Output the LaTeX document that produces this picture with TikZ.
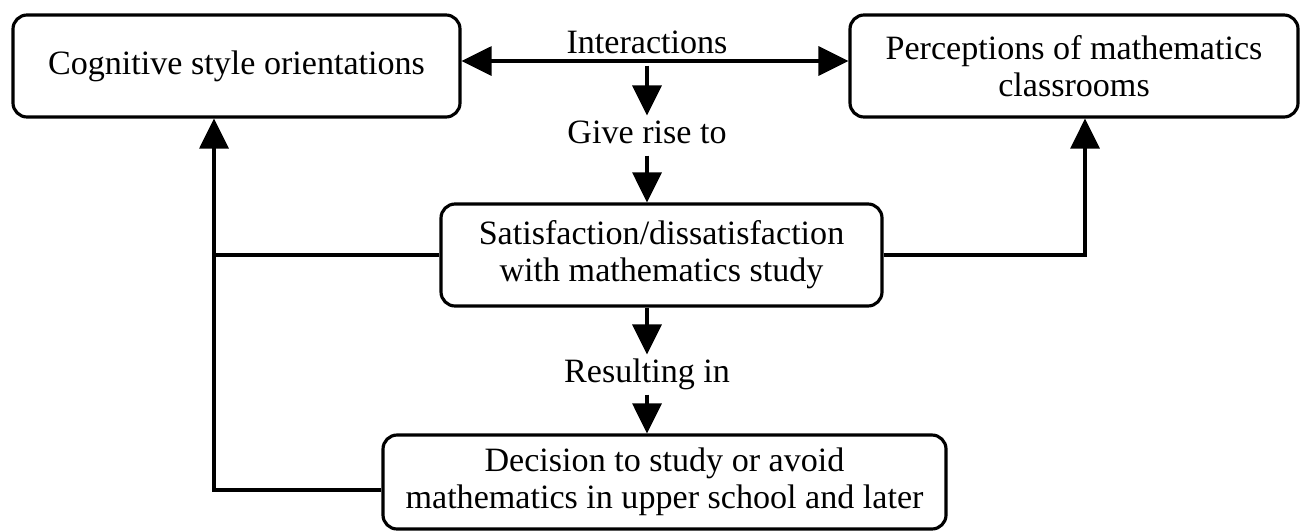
\documentclass[tikz,border=0pt]{standalone}
\usepackage{fontspec}
\setmainfont{Liberation Serif}
\usetikzlibrary{arrows.meta}

\tikzset{
  box/.style={draw, rounded corners=4pt, line width=0.9pt, align=center, inner sep=0pt},
  lbl/.style={inner xsep=2pt, inner ysep=1pt, text height=0.68em, text depth=0.22em},
  arr/.style={line width=0.9pt, -{Triangle[length=0.3cm, width=0.29cm]}},
  both/.style={line width=0.9pt, {Triangle[length=0.3cm, width=0.29cm]}-{Triangle[length=0.3cm, width=0.29cm]}},
  ln/.style={line width=0.9pt}
}

\begin{document}
\begin{tikzpicture}[font=\fontsize{9.7}{10.6}\selectfont]
            \useasboundingbox (0,0) rectangle (13,-5.31);
            \node [box, minimum width=4.47cm, minimum height=1.02cm] (cog) at (2.365,-0.66) {Cognitive style orientations};
            \node [box, minimum width=4.48cm, minimum height=1.02cm] (perc) at (10.74,-0.66) {Perceptions of mathematics\\classrooms};
            \node [box, minimum width=4.41cm, minimum height=1.02cm] (sat) at (6.615,-2.55) {Satisfaction/dissatisfaction\\with mathematics study};
            \node [box, minimum width=5.63cm, minimum height=0.94cm] (dec) at (6.645,-4.82) {Decision to study or avoid\\mathematics in upper school and later};
            \node [lbl] (inter) at (6.47,-0.455) {Interactions};
            \node [lbl] (give) at (6.47,-1.355) {Give rise to};
            \node [lbl] (res) at (6.47,-3.745) {Resulting in};
            \coordinate (lft) at ([xshift=-0.225cm]cog.south);
            \coordinate (rgt) at ([xshift=0.11cm]perc.south);
            \draw [both] ([yshift=0.05cm]cog.east) -- ([yshift=0.05cm]perc.west);
            \draw [arr] (inter.south) -- (give.north);
            \draw [arr] (give.south) -- (give.south |- sat.north);
            \draw [arr] (res.north |- sat.south) -- (res.north);
            \draw [arr] (res.south) -- (res.south |- dec.north);
            \draw [arr] ([yshift=-0.08cm]dec.west) -| (lft);
            \draw [ln] (sat.west) -- (sat.west -| lft);
            \draw [arr] (sat.east) -| (rgt);
        \end{tikzpicture}
\end{document}
